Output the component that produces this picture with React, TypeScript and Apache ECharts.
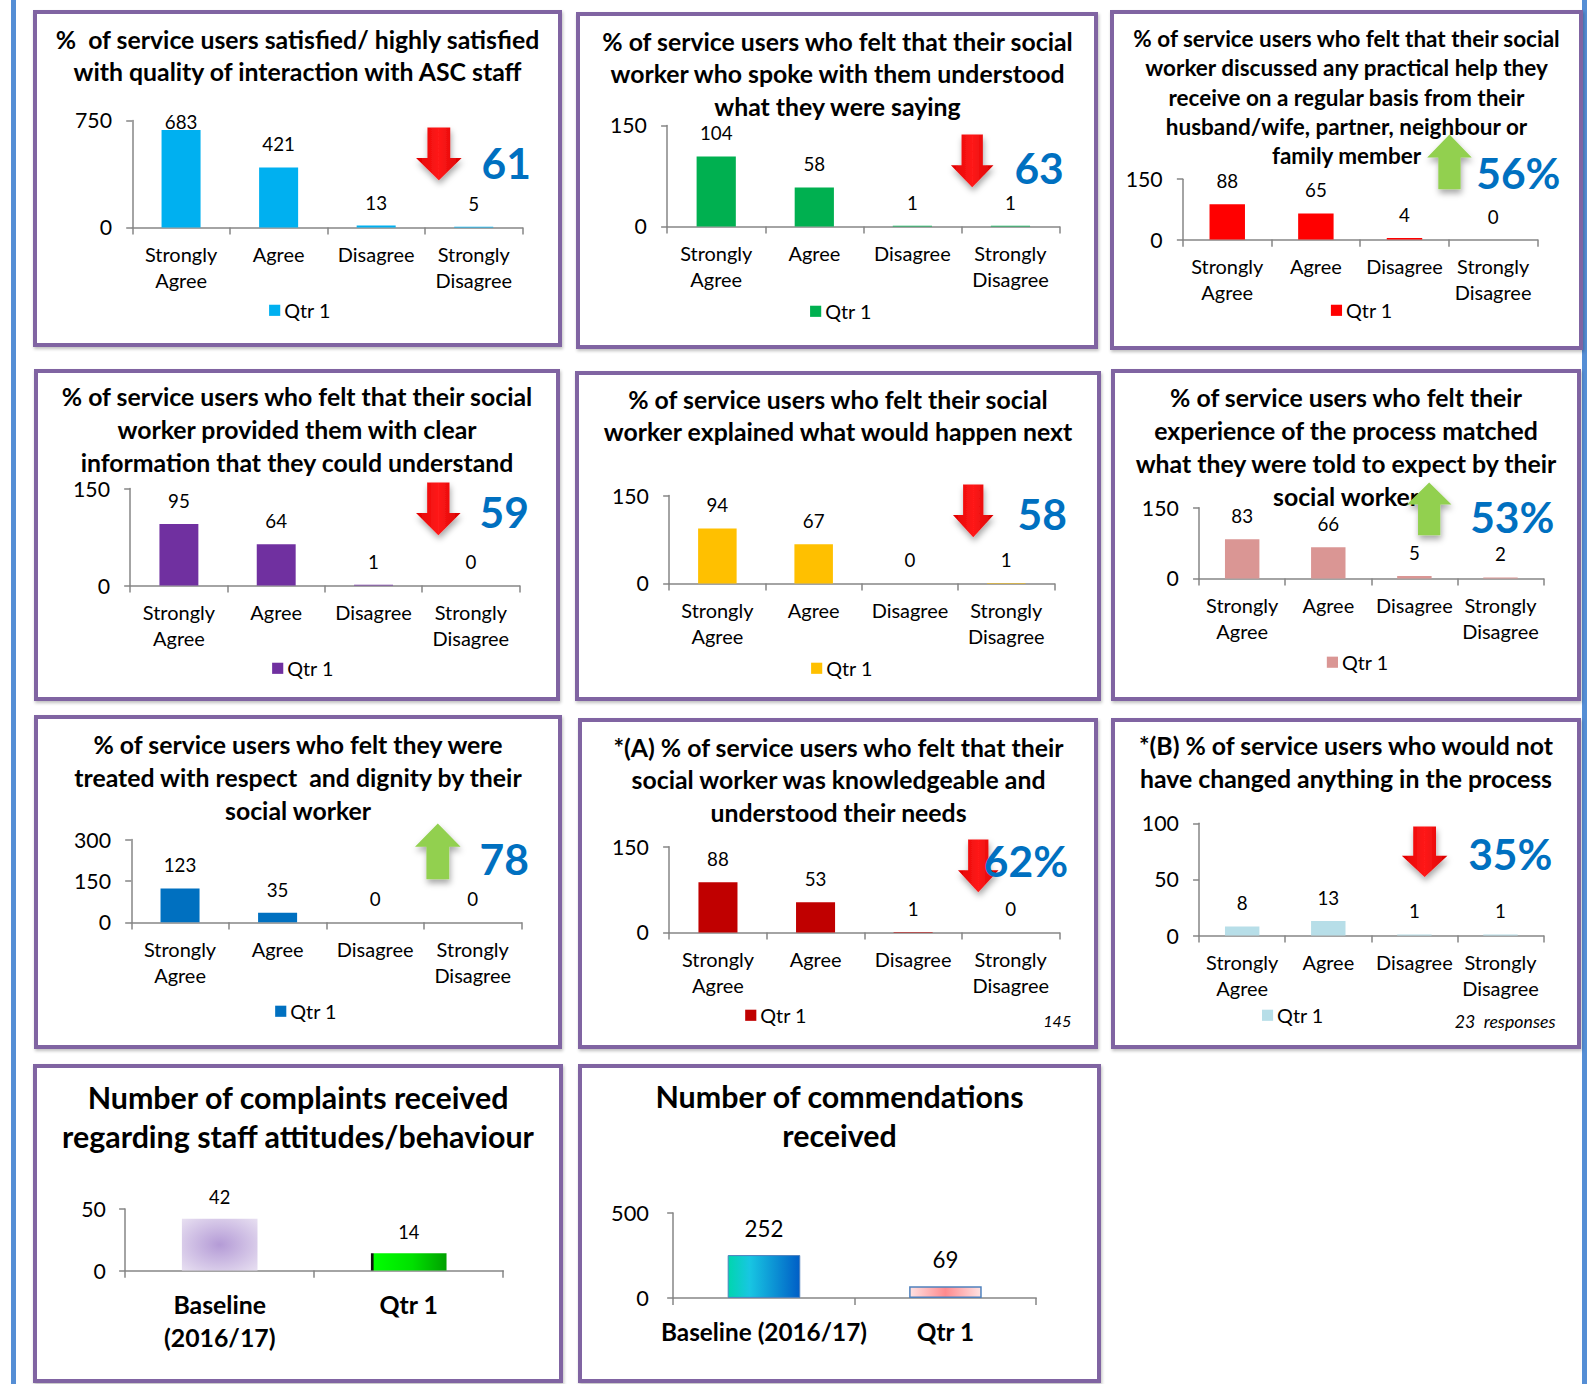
import React, { useEffect, useRef } from "react";
import * as echarts from "echarts";

// ---------- data ----------
const likertCategories = ["Strongly\nAgree", "Agree", "Disagree", "Strongly\nDisagree"];
const complaintCategories = ["Baseline\n(2016/17)", "Qtr 1"];
const commendationCategories = ["Baseline (2016/17)", "Qtr 1"];
const seriesName = "Qtr 1";

const satisfiedValues = [683, 421, 13, 5];
const understoodValues = [104, 58, 1, 1];
const practicalHelpValues = [88, 65, 4, 0];
const clearInfoValues = [95, 64, 1, 0];
const explainedNextValues = [94, 67, 0, 1];
const expectationValues = [83, 66, 5, 2];
const respectValues = [123, 35, 0, 0];
const knowledgeableValues = [88, 53, 1, 0];
const noChangeValues = [8, 13, 1, 1];
const complaintsValues = [42, 14];
const commendationsValues = [252, 69];

const yMaxes = [750, 150, 150, 150, 150, 150, 300, 150, 100, 50, 500];
const yIntervals = [750, 150, 150, 150, 150, 150, 150, 150, 50, 50, 500];
const headlines = ["61", "63", "56%", "59", "58", "53%", "78", "62%", "35%"];
const trends = ["down", "down", "up", "down", "down", "up", "up", "down", "down"];

// ---------- layout (reference coordinates, scaled) ----------
const F = 1589 / 1568;
const s = (v: number) => v * F;
const FONT = "Lato";

type Panel = {
  box: number[];
  title: string[];
  titleSize: number;
  titleLH: number;
  titleY: number;
  axis: number[];
  categories: string[];
  values: number[];
  yMax: number;
  yInterval: number;
  color?: string;
  barStyles?: any[];
  legend?: number[];
  catBold?: boolean;
  catSize: number;
  catLH: number;
  catMargin: number;
  yLabelSize: number;
  yMargin: number;
  valueSize: number;
  valueGap: number;
  arrow?: { dir: string; b: number[] };
  headline?: { text: string; x: number; y: number };
  note?: { text: string; x: number; y: number; size: number };
  firstLabelNudge?: number;
};

const TS = 24.5;

const likertBase = {
  catSize: 19.7,
  catLH: 25,
  catMargin: 14,
  yLabelSize: 21,
  yMargin: 20,
  valueSize: 18.5,
  valueGap: 24.5,
  categories: likertCategories,
};

const panels: Panel[] = [
  {
    ...likertBase,
    box: [35, 12, 553, 340],
    title: ["%  of service users satisfied/ highly satisfied", "with quality of interaction with ASC staff"],
    titleSize: TS, titleLH: 32, titleY: 39,
    axis: [131, 516, 119, 225],
    values: satisfiedValues, yMax: yMaxes[0], yInterval: yIntervals[0],
    color: "#00b0f0", legend: [266, 307],
    arrow: { dir: trends[0], b: [411, 126, 456, 178] },
    headline: { text: headlines[0], x: 500, y: 161 },
    firstLabelNudge: 15,
  },
  {
    ...likertBase,
    box: [570, 14, 1082, 342],
    title: ["% of service users who felt that their social", "worker who spoke with them understood", "what they were saying"],
    titleSize: TS, titleLH: 32, titleY: 41,
    axis: [658, 1045, 124, 224],
    values: understoodValues, yMax: yMaxes[1], yInterval: yIntervals[1],
    color: "#00b050", legend: [799, 308],
    arrow: { dir: trends[1], b: [938, 133, 980, 185] },
    headline: { text: headlines[1], x: 1025, y: 165 },
  },
  {
    ...likertBase,
    box: [1097, 12, 1560, 343],
    title: [
      "% of service users who felt that their social",
      "worker discussed any practical help they",
      "receive on a regular basis from their",
      "husband/wife, partner, neighbour or",
      "family member",
    ],
    titleSize: 22.2, titleLH: 29, titleY: 38,
    axis: [1167, 1517, 177, 237],
    values: practicalHelpValues, yMax: yMaxes[2], yInterval: yIntervals[2],
    color: "#ff0000", legend: [1313, 307],
    arrow: { dir: trends[2], b: [1408, 133, 1452, 187] },
    headline: { text: headlines[2], x: 1498, y: 170 },
  },
  {
    ...likertBase,
    box: [36, 366, 551, 690],
    title: ["% of service users who felt that their social", "worker provided them with clear", "information that they could understand"],
    titleSize: TS, titleLH: 32.5, titleY: 391,
    axis: [129, 513, 482, 578],
    values: clearInfoValues, yMax: yMaxes[3], yInterval: yIntervals[3],
    color: "#7030a0", legend: [269, 660],
    arrow: { dir: trends[3], b: [411, 476, 455, 528] },
    headline: { text: headlines[3], x: 498, y: 505 },
  },
  {
    ...likertBase,
    box: [569, 368, 1084, 690],
    title: ["% of service users who felt their social", "worker explained what would happen next"],
    titleSize: TS, titleLH: 32, titleY: 394,
    axis: [660, 1040, 489, 576],
    values: explainedNextValues, yMax: yMaxes[4], yInterval: yIntervals[4],
    color: "#ffc000", legend: [800, 660],
    arrow: { dir: trends[4], b: [940, 478, 980, 530] },
    headline: { text: headlines[4], x: 1028, y: 507 },
  },
  {
    ...likertBase,
    box: [1098, 366, 1558, 690],
    title: ["% of service users who felt their", "experience of the process matched", "what they were told to expect by their", "social worker"],
    titleSize: TS, titleLH: 32.7, titleY: 392,
    axis: [1183, 1523, 501, 571],
    values: expectationValues, yMax: yMaxes[5], yInterval: yIntervals[5],
    color: "#da9694", legend: [1309, 654],
    arrow: { dir: trends[5], b: [1388, 476, 1432, 528] },
    headline: { text: headlines[5], x: 1492, y: 510 },
  },
  {
    ...likertBase,
    box: [36, 708, 553, 1033],
    title: ["% of service users who felt they were", "treated with respect  and dignity by their", "social worker"],
    titleSize: TS, titleLH: 32.5, titleY: 735,
    axis: [130, 515, 829, 911],
    values: respectValues, yMax: yMaxes[6], yInterval: yIntervals[6],
    color: "#0070c0", legend: [272, 999],
    arrow: { dir: trends[6], b: [410, 813, 455, 868] },
    headline: { text: headlines[6], x: 498, y: 848 },
  },
  {
    ...likertBase,
    box: [572, 710, 1082, 1033],
    title: ["*(A) % of service users who felt that their", "social worker was knowledgeable and", "understood their needs"],
    titleSize: TS, titleLH: 32, titleY: 737,
    axis: [660, 1045, 835, 920],
    values: knowledgeableValues, yMax: yMaxes[7], yInterval: yIntervals[7],
    color: "#c00000", legend: [735, 1002],
    arrow: { dir: trends[7], b: [945, 828, 985, 880] },
    headline: { text: headlines[7], x: 1012, y: 849 },
    note: { text: "145", x: 1043, y: 1007, size: 16 },
  },
  {
    ...likertBase,
    box: [1098, 710, 1558, 1033],
    title: ["*(B) % of service users who would not", "have changed anything in the process"],
    titleSize: TS, titleLH: 33, titleY: 735,
    axis: [1183, 1523, 812, 923],
    values: noChangeValues, yMax: yMaxes[8], yInterval: yIntervals[8],
    color: "#b7dee8", legend: [1245, 1002],
    arrow: { dir: trends[8], b: [1383, 815, 1428, 865] },
    headline: { text: headlines[8], x: 1490, y: 842 },
    note: { text: "23  responses", x: 1485, y: 1008, size: 17.5 },
  },
  {
    box: [35, 1052, 554, 1363],
    title: ["Number of complaints received", "regarding staff attitudes/behaviour"],
    titleSize: 30, titleLH: 38, titleY: 1083,
    axis: [124, 497, 1193, 1254],
    categories: complaintCategories,
    values: complaintsValues, yMax: yMaxes[9], yInterval: yIntervals[9],
    barStyles: [
      {
        color: new echarts.graphic.RadialGradient(0.5, 0.5, 0.75, [
          { offset: 0, color: "#b49bd6" },
          { offset: 1, color: "#ebe4f3" },
        ]),
      },
      {
        color: new echarts.graphic.LinearGradient(0, 0, 1, 0, [
          { offset: 0, color: "#111" },
          { offset: 0.03, color: "#111" },
          { offset: 0.04, color: "#00ff00" },
          { offset: 0.55, color: "#00e000" },
          { offset: 1, color: "#00a000" },
        ]),
      },
    ],
    catBold: true, catSize: 24.5, catLH: 33, catMargin: 17,
    yLabelSize: 21, yMargin: 19,
    valueSize: 18, valueGap: 23,
  },
  {
    box: [572, 1052, 1084, 1363],
    title: ["Number of commendations", "received"],
    titleSize: 30, titleLH: 38, titleY: 1082,
    axis: [664, 1022, 1197, 1281],
    categories: commendationCategories,
    values: commendationsValues, yMax: yMaxes[10], yInterval: yIntervals[10],
    barStyles: [
      {
        color: new echarts.graphic.LinearGradient(0, 0, 1, 0, [
          { offset: 0, color: "#00d6ae" },
          { offset: 0.3, color: "#18c6e2" },
          { offset: 1, color: "#005ec6" },
        ]),
        borderColor: "#4f81bd",
        borderWidth: 1,
      },
      {
        color: new echarts.graphic.LinearGradient(0, 0, 1, 0, [
          { offset: 0, color: "#ffe2e2" },
          { offset: 0.5, color: "#ff8a8e" },
          { offset: 1, color: "#ffe2e2" },
        ]),
        borderColor: "#4f81bd",
        borderWidth: 1.5,
      },
    ],
    catBold: true, catSize: 24, catLH: 30, catMargin: 18,
    yLabelSize: 21.5, yMargin: 24,
    valueSize: 22, valueGap: 29,
  },
];

const BORDER = 4;

function buildOption(p: Panel) {
  const ox = s(p.box[0]) - BORDER / 2;
  const oy = s(p.box[1]) - BORDER / 2;
  const W = s(p.box[2] - p.box[0]) + BORDER;
  const H = s(p.box[3] - p.box[1]) + BORDER;
  const rx = (v: number) => s(v) - ox;
  const ry = (v: number) => s(v) - oy;

  const gLeft = rx(p.axis[0]);
  const gRight = W - rx(p.axis[1]);
  const gTop = ry(p.axis[2]);
  const gBottom = H - ry(p.axis[3]);

  const graphics: any[] = [];
  if (p.arrow) {
    const [x0, y0, x1, y1] = p.arrow.b.map((v, i) => (i % 2 === 0 ? rx(v) : ry(v)));
    const cx = (x0 + x1) / 2;
    const sw = (x1 - x0) * 0.5;
    const hh = (y1 - y0) * 0.42;
    let pts: number[][];
    if (p.arrow.dir === "down") {
      const hy = y1 - hh;
      pts = [[cx - sw / 2, y0], [cx + sw / 2, y0], [cx + sw / 2, hy], [x1, hy], [cx, y1], [x0, hy], [cx - sw / 2, hy]];
    } else {
      const hy = y0 + hh;
      pts = [[cx - sw / 2, y1], [cx + sw / 2, y1], [cx + sw / 2, hy], [x1, hy], [cx, y0], [x0, hy], [cx - sw / 2, hy]];
    }
    const down = p.arrow.dir === "down";
    graphics.push({
      type: "polygon",
      z: 100,
      shape: { points: pts },
      style: {
        fill: down
          ? new echarts.graphic.LinearGradient(0, 0, 1, 0, [
              { offset: 0, color: "#e00000" },
              { offset: 0.5, color: "#ff1a1a" },
              { offset: 1, color: "#d80000" },
            ])
          : "#92d050",
        shadowBlur: 6,
        shadowOffsetX: 1,
        shadowOffsetY: 4,
        shadowColor: "rgba(0,0,0,0.35)",
      },
    });
  }
  if (p.headline) {
    graphics.push({
      type: "text",
      z: 100,
      x: rx(p.headline.x),
      y: ry(p.headline.y),
      style: {
        text: p.headline.text,
        fontFamily: FONT,
        fontWeight: "bold",
        fontSize: s(42),
        fill: "#0070c0",
        align: "center",
        verticalAlign: "middle",
      },
    });
  }
  if (p.note) {
    graphics.push({
      type: "text",
      z: 100,
      x: rx(p.note.x),
      y: ry(p.note.y),
      style: {
        text: p.note.text,
        fontFamily: FONT,
        fontStyle: "italic",
        fontSize: s(p.note.size),
        fill: "#000",
        align: "center",
        verticalAlign: "middle",
      },
    });
  }

  const labelBase = {
    show: true,
    position: "top",
    distance: s(p.valueGap) - s(p.valueSize) * 0.6,
    fontFamily: FONT,
    fontSize: s(p.valueSize),
    color: "#000",
  };

  const data = p.values.map((v, i) => {
    const item: any = { value: v };
    if (p.barStyles) item.itemStyle = p.barStyles[i];
    if (i === 0 && p.firstLabelNudge) item.label = { offset: [0, s(p.firstLabelNudge)] };
    return item;
  });

  return {
    animation: false,
    backgroundColor: "transparent",
    title: {
      text: p.title.join("\n"),
      left: "center",
      top: ry(p.titleY) - s(p.titleLH) / 2,
      padding: 0,
      textStyle: {
        fontFamily: FONT,
        fontWeight: "bold",
        fontSize: s(p.titleSize),
        lineHeight: s(p.titleLH),
        color: "#000",
      },
    },
    legend: p.legend
      ? {
          show: true,
          left: rx(p.legend[0]),
          top: ry(p.legend[1]) - s(10.5),
          padding: 0,
          icon: "rect",
          itemWidth: s(11),
          itemHeight: s(11),
          data: [seriesName],
          textStyle: { fontFamily: FONT, fontSize: s(19.5), color: "#000", padding: [0, 0, 0, -1] },
        }
      : { show: false },
    grid: { left: gLeft, right: gRight, top: gTop, bottom: gBottom, containLabel: false },
    xAxis: {
      type: "category",
      data: p.categories,
      axisLine: { show: true, lineStyle: { color: "#868686", width: 1.5 } },
      axisTick: { show: true, length: s(7), alignWithLabel: false, lineStyle: { color: "#868686", width: 1.5 } },
      axisLabel: {
        interval: 0,
        margin: s(p.catMargin),
        fontFamily: FONT,
        fontWeight: p.catBold ? "bold" : "normal",
        fontSize: s(p.catSize),
        lineHeight: s(p.catLH),
        color: "#000",
      },
    },
    yAxis: {
      type: "value",
      min: 0,
      max: p.yMax,
      interval: p.yInterval,
      splitLine: { show: false },
      axisLine: { show: true, lineStyle: { color: "#868686", width: 1.5 } },
      axisTick: { show: true, length: s(6), lineStyle: { color: "#868686", width: 1.5 } },
      axisLabel: {
        margin: s(p.yMargin),
        fontFamily: FONT,
        fontSize: s(p.yLabelSize),
        color: "#000",
      },
    },
    series: [
      {
        type: "bar",
        name: seriesName,
        data,
        barWidth: "40%",
        itemStyle: { color: p.color || "#999" },
        label: labelBase,
      },
    ],
    graphic: graphics,
  };
}

function PanelChart({ p }: { p: Panel }) {
  const ref = useRef<HTMLDivElement>(null);
  const left = s(p.box[0]) - BORDER / 2;
  const top = s(p.box[1]) - BORDER / 2;
  const width = s(p.box[2] - p.box[0]) + BORDER;
  const height = s(p.box[3] - p.box[1]) + BORDER;
  useEffect(() => {
    if (!ref.current) return;
    const chart = echarts.init(ref.current, null, { renderer: "svg" });
    chart.setOption(buildOption(p) as any);
    return () => chart.dispose();
  }, [p]);
  return (
    <>
      <div
        style={{
          position: "absolute",
          left,
          top,
          width,
          height,
          boxSizing: "border-box",
          border: `${BORDER}px solid #8064a2`,
          background: "#fff",
          boxShadow: "1px 2px 3px rgba(0,0,0,0.25)",
        }}
      />
      <div ref={ref} style={{ position: "absolute", left, top, width, height }} />
    </>
  );
}

export default function App() {
  return (
    <div
      style={{
        position: "absolute",
        left: 0,
        top: 0,
        width: 1589,
        height: 1384,
        background: "#fff",
        overflow: "hidden",
      }}
    >
      <div style={{ position: "absolute", left: 11, top: 0, width: 5, height: 1384, background: "#558ed5" }} />
      <div style={{ position: "absolute", left: 1582, top: 0, width: 5, height: 1384, background: "#558ed5" }} />
      {panels.map((p, i) => (
        <PanelChart key={i} p={p} />
      ))}
    </div>
  );
}
